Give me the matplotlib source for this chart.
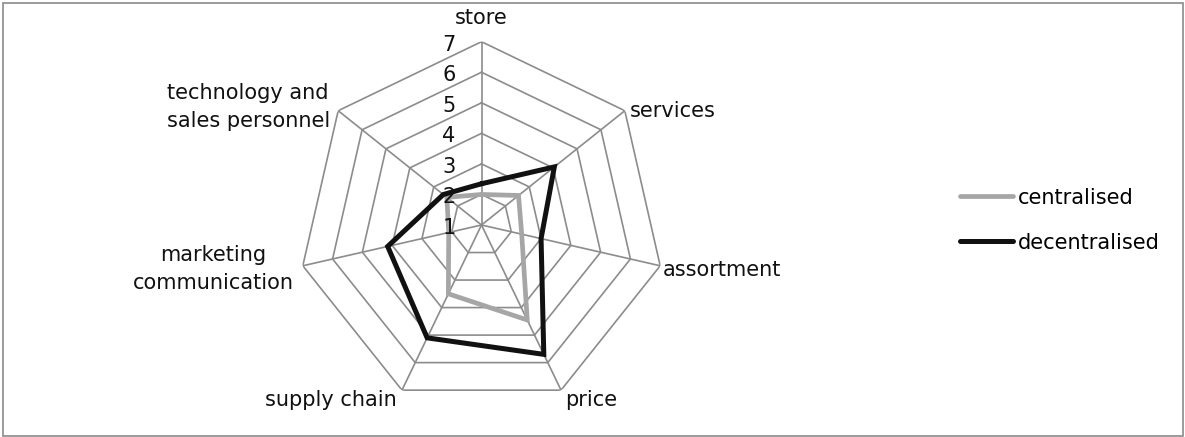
import numpy as np
import matplotlib
matplotlib.use("Agg")
import matplotlib.pyplot as plt
from matplotlib.patches import Rectangle

categories = ['store', 'services', 'assortment', 'price', 'supply chain',
              'marketing\ncommunication', 'technology and\nsales personnel']
centralised = [2.0, 2.55, 2.35, 4.45, 3.5, 2.1, 2.45]
decentralised = [2.35, 4.05, 3.0, 5.7, 5.1, 4.15, 2.6]
ticks = [1, 2, 3, 4, 5, 6, 7]

# label placement relative to outer vertex: (ha, va, dx px, dy px, multialign)
label_style = [('center', 'center', 0, 24, 'center'),
               ('left', 'center', 5, 0, 'left'),
               ('left', 'center', 3, -4, 'left'),
               ('left', 'center', 4, -10, 'left'),
               ('right', 'center', -5, -10, 'right'),
               ('right', 'center', -9, -3, 'center'),
               ('right', 'center', -8, 4, 'left')]

W, H = 1185, 437
fig = plt.figure(figsize=(W / 100, H / 100), dpi=100)
plt.rcParams['font.family'] = ['DejaVu Sans']
fs = 15
grid_c = '#8c8c8c'
pt = 0.72  # points per pixel

# outer frame
fig.patches.append(Rectangle((2.5 / W, 1.5 / H), (W - 5) / W, (H - 4) / H,
                             transform=fig.transFigure, fill=False,
                             edgecolor='#8a8a8a', linewidth=1.2))

cx, cy, R = 481.5, 437 - 225, 183.3
ax = fig.add_axes([(cx - R) / W, (cy - R) / H, 2 * R / W, 2 * R / H],
                  projection='polar')
ax.set_theta_zero_location('N')
ax.set_theta_direction(-1)
ax.set_ylim(1, 7)
ax.set_axis_off()

n = len(categories)
theta = np.linspace(0, 2 * np.pi, n, endpoint=False)
theta_c = np.append(theta, theta[0])

for k in ticks[1:]:
    ax.plot(theta_c, [k] * (n + 1), color=grid_c, lw=1.2, zorder=1)
for t in theta:
    ax.plot([t, t], [ticks[0], ticks[-1]], color=grid_c, lw=1.2, zorder=1)

ax.plot(theta_c, centralised + centralised[:1], color='#a6a6a6', lw=3.4,
        solid_joinstyle='miter', solid_capstyle='round',
        label='centralised', zorder=3)
ax.plot(theta_c, decentralised + decentralised[:1], color='#111111', lw=3.6,
        solid_joinstyle='miter', solid_capstyle='round',
        label='decentralised', zorder=4)

for k in ticks:
    ax.annotate(str(k), xy=(0, k), xytext=(-26 * pt, -3 * pt),
                textcoords='offset points', ha='right', va='center',
                fontsize=fs, color='#111111', annotation_clip=False)

for t, lab, (ha, va, dx, dy, ma) in zip(theta, categories, label_style):
    ax.annotate(lab, xy=(t, ticks[-1]), xytext=(dx * pt, dy * pt),
                textcoords='offset points', ha=ha, va=va, multialignment=ma,
                fontsize=fs, color='#111111', annotation_clip=False,
                linespacing=1.5)

handles, labels = ax.get_legend_handles_labels()
fig.legend(handles, labels, loc='center left',
           bbox_to_anchor=(960 / W, 1 - 220 / H), frameon=False,
           fontsize=fs, handlelength=2.55, handletextpad=0.25,
           labelspacing=1.2, borderpad=0, borderaxespad=0)

fig.savefig('out.png', dpi=100)
